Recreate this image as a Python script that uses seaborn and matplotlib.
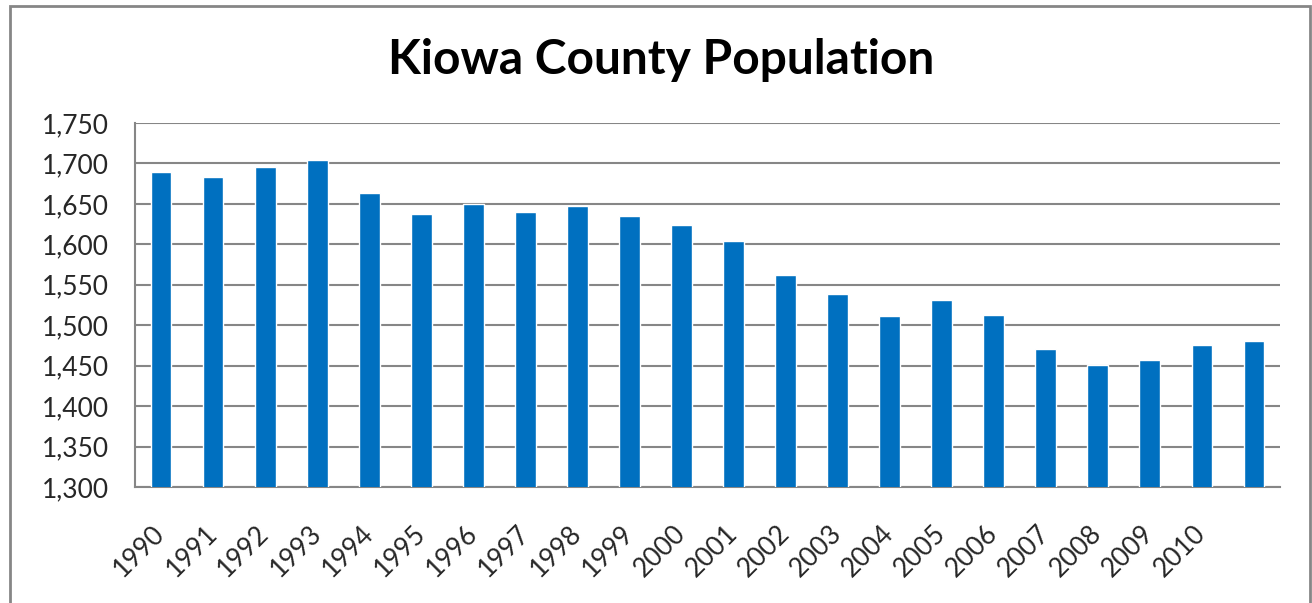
import matplotlib
matplotlib.use('Agg')
import matplotlib.pyplot as plt
import matplotlib.transforms as mtransforms
import pandas as pd
import seaborn as sns
from matplotlib.patches import Rectangle
from matplotlib.ticker import FuncFormatter

# Data (last bar has no year label in the original)
tick_labels = ['1990', '1991', '1992', '1993', '1994', '1995', '1996', '1997', '1998', '1999', '2000',
               '2001', '2002', '2003', '2004', '2005', '2006', '2007', '2008', '2009', '2010']
population = [1689, 1683, 1696, 1704, 1663, 1637, 1650, 1640, 1648, 1635, 1624,
              1604, 1562, 1539, 1511, 1531, 1513, 1470, 1451, 1457, 1475, 1480]

df = pd.DataFrame({'bar': list(range(len(population))), 'population': population})

sns.set_style('white')
plt.rcParams['font.family'] = ['Lato', 'DejaVu Sans']

fig = plt.figure(figsize=(13.12, 6.03), dpi=100)
ax = fig.add_axes([135 / 1312, 1 - 487 / 603, (1280 - 135) / 1312, (487 - 123) / 603])

sns.barplot(data=df, x='bar', y='population', color='#0070C0', saturation=1,
            width=0.4, ax=ax, zorder=3)

ax.set_ylim(1300, 1750)
ax.set_xlim(-0.5, len(population) - 0.5)
ax.set_yticks(range(1300, 1751, 50))
ax.yaxis.set_major_formatter(FuncFormatter(lambda v, p: f'{int(v):,}'))
ax.yaxis.grid(True, color='#868686', linewidth=1.5, zorder=0)
ax.set_axisbelow(True)

ax.set_xticks(range(len(population)))
ax.set_xticklabels(tick_labels + [''] * (len(population) - len(tick_labels)),
                   rotation=45, ha='right', fontsize=19)
ax.tick_params(axis='y', labelsize=19, length=0, pad=19)
ax.tick_params(axis='x', length=0, pad=24)
# nudge the rotated year labels a little to the right
shift = mtransforms.ScaledTranslation(9 / 100, 0, fig.dpi_scale_trans)
for lbl in ax.get_xticklabels():
    lbl.set_transform(lbl.get_transform() + shift)
ax.set_xlabel('')
ax.set_ylabel('')

for side in ['top', 'right']:
    ax.spines[side].set_visible(False)
for side in ['left', 'bottom']:
    ax.spines[side].set_color('#868686')
    ax.spines[side].set_linewidth(1.5)

fig.text(661 / 1312, 1 - 60 / 603, 'Kiowa County Population', ha='center', va='center',
         fontsize=34.5, fontweight='bold', color='black')

# outer chart border
fig.patches.append(Rectangle((10 / 1312, -0.1), 1300 / 1312, 1.1 - 6 / 603,
                             transform=fig.transFigure, fill=False,
                             edgecolor='#868686', linewidth=2))

fig.savefig('out.png', dpi=100)
